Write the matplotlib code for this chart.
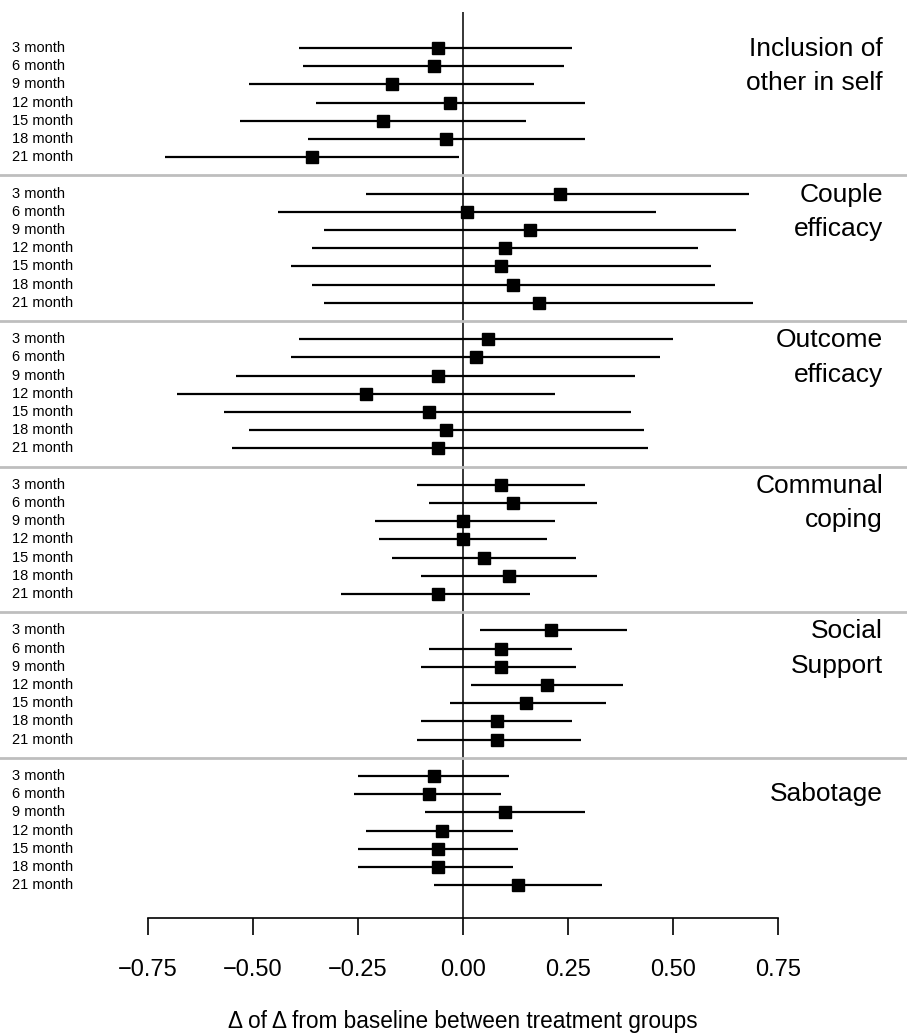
"""
Forest plot of change-from-baseline differences between treatment groups
"""

import matplotlib.pyplot as plt
from matplotlib.lines import Line2D
from matplotlib.transforms import blended_transform_factory

# Data
months = ['3 month', '6 month', '9 month', '12 month', '15 month', '18 month', '21 month']
measures = ['Inclusion of\nother in self', 'Couple\nefficacy', 'Outcome\nefficacy',
            'Communal\ncoping', 'Social\nSupport', 'Sabotage']

inclusion_est = [-0.06, -0.07, -0.17, -0.03, -0.19, -0.04, -0.36]
inclusion_lo = [-0.39, -0.38, -0.51, -0.35, -0.53, -0.37, -0.71]
inclusion_hi = [0.26, 0.24, 0.17, 0.29, 0.15, 0.29, -0.01]

couple_est = [0.23, 0.01, 0.16, 0.10, 0.09, 0.12, 0.18]
couple_lo = [-0.23, -0.44, -0.33, -0.36, -0.41, -0.36, -0.33]
couple_hi = [0.68, 0.46, 0.65, 0.56, 0.59, 0.60, 0.69]

outcome_est = [0.06, 0.03, -0.06, -0.23, -0.08, -0.04, -0.06]
outcome_lo = [-0.39, -0.41, -0.54, -0.68, -0.57, -0.51, -0.55]
outcome_hi = [0.50, 0.47, 0.41, 0.22, 0.40, 0.43, 0.44]

communal_est = [0.09, 0.12, 0.00, 0.00, 0.05, 0.11, -0.06]
communal_lo = [-0.11, -0.08, -0.21, -0.20, -0.17, -0.10, -0.29]
communal_hi = [0.29, 0.32, 0.22, 0.20, 0.27, 0.32, 0.16]

social_est = [0.21, 0.09, 0.09, 0.20, 0.15, 0.08, 0.08]
social_lo = [0.04, -0.08, -0.10, 0.02, -0.03, -0.10, -0.11]
social_hi = [0.39, 0.26, 0.27, 0.38, 0.34, 0.26, 0.28]

sabotage_est = [-0.07, -0.08, 0.10, -0.05, -0.06, -0.06, 0.13]
sabotage_lo = [-0.25, -0.26, -0.09, -0.23, -0.25, -0.25, -0.07]
sabotage_hi = [0.11, 0.09, 0.29, 0.12, 0.13, 0.12, 0.33]

x_ticks = [-0.75, -0.50, -0.25, 0.00, 0.25, 0.50, 0.75]

series = [
    (inclusion_est, inclusion_lo, inclusion_hi),
    (couple_est, couple_lo, couple_hi),
    (outcome_est, outcome_lo, outcome_hi),
    (communal_est, communal_lo, communal_hi),
    (social_est, social_lo, social_hi),
    (sabotage_est, sabotage_lo, sabotage_hi),
]

plt.rcParams['font.family'] = ['Liberation Sans', 'DejaVu Sans']

# Figure in pixel-ish units (dpi 100)
W, H = 907, 1035
fig = plt.figure(figsize=(W / 100, H / 100), dpi=100)
ax = fig.add_axes([148 / W, (H - 918) / H, 630 / W, (918 - 12) / H])

label_trans = blended_transform_factory(fig.transFigure, ax.transData)
step = len(months) + 1  # one blank row between groups

for g, (name, (est, lo, hi)) in enumerate(zip(measures, series)):
    rows = [g * step + i for i in range(len(months))]

    # Confidence intervals and point estimates
    ax.hlines(rows, lo, hi, color='black', linewidth=1.6, zorder=2)
    ax.plot(est, rows, linestyle='none', marker='s', markersize=8.8,
            color='black', zorder=3)

    # Row labels on the far left
    for r, m in zip(rows, months):
        ax.text(12 / W, r, m, transform=label_trans, ha='left', va='center',
                fontsize=10.5)

    # Group title on the right
    ax.text(883 / W, rows[1], name, transform=label_trans, ha='right',
            va='center', fontsize=19, linespacing=1.55)

    # Gray separator below each group (except last)
    if g < len(measures) - 1:
        sep_y = g * step + len(months)
        fig.add_artist(Line2D([0, 1], [sep_y, sep_y], transform=label_trans,
                              color='#bebebe', linewidth=2))

# Zero reference line
ax.axvline(0, color='black', linewidth=1.1, zorder=1)

# Formatting
n_rows = len(measures) * step - 1
ax.set_xlim(-0.75, 0.75)
ax.set_ylim(n_rows + 0.8, -1.98)
ax.set_xticks(x_ticks)
ax.set_xticklabels([f'{t:.2f}'.replace('-', '\u2212') for t in x_ticks])
ax.set_yticks([])
for side in ['top', 'right', 'left']:
    ax.spines[side].set_visible(False)
ax.spines['bottom'].set_bounds(-0.75, 0.75)
ax.spines['bottom'].set_linewidth(1.2)
ax.tick_params(axis='x', direction='out', length=12.5, width=1.2,
               pad=17, labelsize=17)
ax.set_xlabel('\u0394 of \u0394 from baseline between treatment groups',
              fontsize=16.3, labelpad=21)

plt.savefig('out.png', dpi=100)
plt.close()
